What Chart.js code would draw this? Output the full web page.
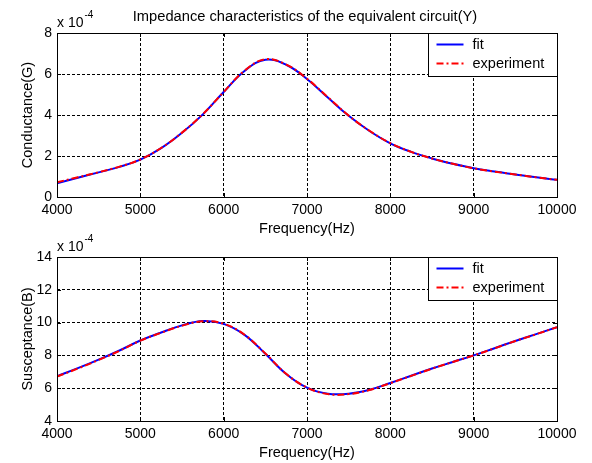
<!DOCTYPE html>
<html>
<head>
<meta charset="utf-8">
<script src="https://cdn.jsdelivr.net/npm/chart.js@4/dist/chart.umd.min.js"></script>
<style>
    html, body { margin: 0; padding: 0; background: #fff; overflow: hidden; }
    #wrap { position: relative; width: 592px; height: 463px; }
    canvas { position: absolute; left: 0; }
</style>
</head>
<body>
<div id="wrap">
    <canvas id="gChart" width="592" height="240" style="top:0px"></canvas>
    <canvas id="bChart" width="592" height="240" style="top:224px"></canvas>
</div>
<script>
// frequency points (Hz)
const freq = [4000, 4250, 4500, 4750, 5000, 5250, 5500, 5750, 6000, 6250, 6500, 6750, 7000,
    7250, 7500, 7750, 8000, 8250, 8500, 8750, 9000, 9250, 9500, 9750, 10000];

// conductance G, in units of 1e-4
const gFit = [0.67, 0.94, 1.20, 1.47, 1.82, 2.38, 3.13, 4.03, 5.12, 6.15, 6.70, 6.45, 5.76,
    4.85, 3.96, 3.22, 2.62, 2.20, 1.88, 1.62, 1.40, 1.24, 1.10, 0.96, 0.84];
const gExp = [0.72, 0.96, 1.21, 1.48, 1.83, 2.39, 3.14, 4.04, 5.12, 6.16, 6.72, 6.46, 5.77,
    4.87, 3.97, 3.23, 2.63, 2.20, 1.88, 1.62, 1.40, 1.24, 1.10, 0.96, 0.84];

// susceptance B, in units of 1e-4
const bFit = [6.73, 7.22, 7.74, 8.30, 8.91, 9.40, 9.83, 10.10, 9.92, 9.25, 8.10, 6.87, 6.03,
    5.66, 5.66, 5.90, 6.32, 6.76, 7.20, 7.60, 8.00, 8.44, 8.88, 9.30, 9.72];
const bExp = [6.71, 7.20, 7.72, 8.28, 8.90, 9.38, 9.81, 10.08, 9.93, 9.26, 8.12, 6.88, 6.04,
    5.64, 5.64, 5.89, 6.31, 6.75, 7.19, 7.60, 8.00, 8.43, 8.88, 9.29, 9.72];

const xTicks = [4000, 5000, 6000, 7000, 8000, 9000, 10000];
const gTicks = [0, 2, 4, 6, 8];
const bTicks = [4, 6, 8, 10, 12, 14];

const seriesNames = ['fit', 'experiment'];
const FONT = 'Liberation Sans, Arial, sans-serif';

Chart.defaults.font.family = FONT;
Chart.defaults.color = '#000';

function toPoints(values) {
    return freq.map((f, i) => ({ x: f, y: values[i] }));
}

// border box, inner tick marks, title, exponent label and legend
const framePlugin = {
    id: 'frame',
    afterDraw(chart, args, opts) {
        const ctx = chart.ctx;
        const a = chart.chartArea;
        const xs = chart.scales.x;
        const ys = chart.scales.y;
        ctx.save();
        ctx.strokeStyle = '#000';
        ctx.lineWidth = 1;
        ctx.setLineDash([]);
        ctx.beginPath();
        xs.ticks.forEach(t => {
            const px = Math.round(xs.getPixelForValue(t.value)) + 0.5;
            ctx.moveTo(px, a.bottom); ctx.lineTo(px, a.bottom - 4);
            ctx.moveTo(px, a.top); ctx.lineTo(px, a.top + 4);
        });
        ys.ticks.forEach(t => {
            const py = Math.round(ys.getPixelForValue(t.value)) + 0.5;
            ctx.moveTo(a.left, py); ctx.lineTo(a.left + 4, py);
            ctx.moveTo(a.right, py); ctx.lineTo(a.right - 4, py);
        });
        ctx.stroke();
        ctx.strokeRect(Math.round(a.left) + 0.5, Math.round(a.top) + 0.5,
            Math.round(a.right - a.left), Math.round(a.bottom - a.top));

        ctx.fillStyle = '#000';
        if (opts.title) {
            ctx.font = '14.7px ' + FONT;
            ctx.textAlign = 'center';
            ctx.textBaseline = 'middle';
            ctx.fillText(opts.title, (a.left + a.right) / 2 - 2, 17);
        }

        // x 10^-4
        ctx.textBaseline = 'alphabetic';
        ctx.textAlign = 'left';
        ctx.font = '14px ' + FONT;
        ctx.fillText('x 10', a.left, a.top - 6);
        const w = ctx.measureText('x 10').width;
        ctx.font = '10px ' + FONT;
        ctx.fillText('-4', a.left + w + 1, a.top - 15);

        // legend
        const bw = 129, bh = 43;
        const lx = Math.round(a.right) - bw + 0.5, ly = Math.round(a.top) + 0.5;
        ctx.fillStyle = '#fff';
        ctx.fillRect(lx, ly, bw, bh);
        ctx.strokeStyle = '#000';
        ctx.lineWidth = 1;
        ctx.strokeRect(lx, ly, bw, bh);
        ctx.font = '14.5px ' + FONT;
        ctx.textBaseline = 'middle';
        const order = [1, 0];
        order.forEach((di, row) => {
            const ds = chart.data.datasets[di];
            const yy = ly + 11 + row * 19;
            ctx.strokeStyle = ds.borderColor;
            ctx.lineWidth = ds.borderWidth;
            ctx.setLineDash(ds.borderDash || []);
            ctx.beginPath();
            ctx.moveTo(lx + 8, yy);
            ctx.lineTo(lx + 35, yy);
            ctx.stroke();
            ctx.fillStyle = '#000';
            ctx.fillText(ds.label, lx + 44, yy);
        });
        ctx.restore();
    }
};

function makeChart(id, fitVals, expVals, yTicks, yLabel, titleText) {
    const ctx = document.getElementById(id).getContext('2d');
    return new Chart(ctx, {
        type: 'line',
        data: {
            datasets: [
                {
                    label: seriesNames[1],
                    data: toPoints(expVals),
                    borderColor: '#ff0000',
                    borderWidth: 2,
                    borderDash: [7, 3, 2, 3],
                    pointRadius: 0,
                    tension: 0.4,
                    order: 1
                },
                {
                    label: seriesNames[0],
                    data: toPoints(fitVals),
                    borderColor: '#0000ff',
                    borderWidth: 2,
                    pointRadius: 0,
                    tension: 0.4,
                    order: 2
                }
            ]
        },
        options: {
            responsive: false,
            animation: false,
            layout: {
                padding: { top: 33, right: 35, left: 0, bottom: 0 }
            },
            plugins: {
                legend: { display: false },
                tooltip: { enabled: false },
                frame: { title: titleText }
            },
            scales: {
                x: {
                    type: 'linear',
                    min: xTicks[0],
                    max: xTicks[xTicks.length - 1],
                    afterBuildTicks: s => { s.ticks = xTicks.map(v => ({ value: v })); },
                    afterFit: s => { s.height = 43; },
                    grid: { color: '#000', lineWidth: 1, drawTicks: false },
                    border: { display: false, dash: [3, 2] },
                    ticks: {
                        font: { size: 14 }, color: '#000', padding: 5, maxRotation: 0,
                        callback: v => String(v)
                    },
                    title: {
                        display: true,
                        text: 'Frequency(Hz)',
                        color: '#000',
                        font: { size: 14.5 },
                        padding: { top: 0, bottom: 2.3 }
                    }
                },
                y: {
                    min: yTicks[0],
                    max: yTicks[yTicks.length - 1],
                    afterBuildTicks: s => { s.ticks = yTicks.map(v => ({ value: v })); },
                    afterFit: s => { s.width = 57; },
                    grid: { color: '#000', lineWidth: 1, drawTicks: false },
                    border: { display: false, dash: [3, 2] },
                    ticks: { font: { size: 14 }, color: '#000', padding: 5, callback: v => String(v) },
                    title: {
                        display: true,
                        text: yLabel,
                        color: '#000',
                        font: { size: 14.5 },
                        padding: { top: 19.3, bottom: 0 }
                    }
                }
            }
        },
        plugins: [framePlugin]
    });
}

makeChart('gChart', gFit, gExp, gTicks, 'Conductance(G)',
    'Impedance characteristics of the equivalent circuit(Y)');
makeChart('bChart', bFit, bExp, bTicks, 'Susceptance(B)', null);
</script>
</body>
</html>
